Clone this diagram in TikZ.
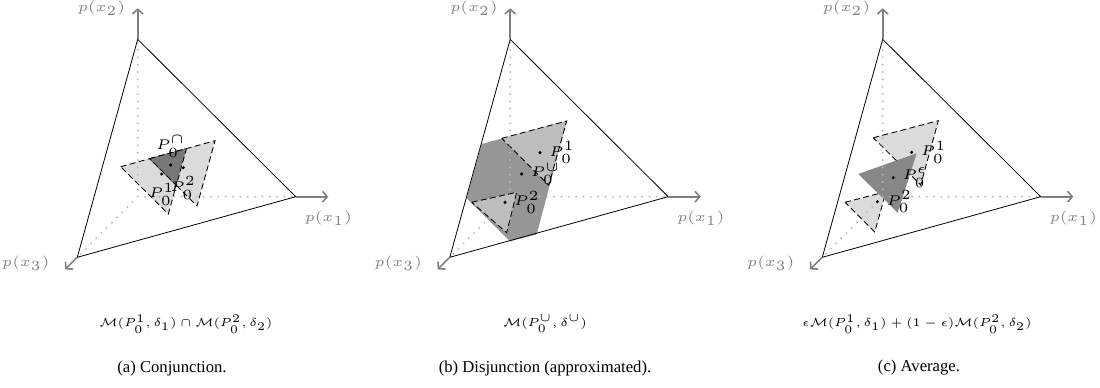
\documentclass[tikz,border=0pt]{standalone}
\usepackage[no-math]{fontspec}
\newfontfamily\capfont{Liberation Serif}
\usetikzlibrary{positioning, arrows.meta}

\definecolor{lightfill}{gray}{0.86}
\definecolor{capfill}{gray}{0.47}
\definecolor{cupfill}{gray}{0.59}
\definecolor{cuplight}{gray}{0.74}
\definecolor{avgfill}{gray}{0.53}

\tikzset{
  axisline/.style={gray, line width=1.2pt, -{Straight Barb[length=3.5pt,width=8pt]}},
  guideline/.style={gray!55, line width=1.6pt, line cap=round, dash pattern=on 0pt off 5.5pt},
  simplexedge/.style={black, line width=0.6pt},
  region/.style={draw=black, line width=0.65pt, dash pattern=on 4.5pt off 2.5pt},
  dotmark/.style={circle, fill=black, inner sep=0pt, minimum size=2.6pt},
  axislabel/.style={gray, font=\tiny, scale=2.1, inner sep=0pt},
  pointlabel/.style={font=\tiny, scale=2.1, inner sep=0pt},
  formula/.style={font=\tiny, scale=1.75},
  subcaption/.style={font=\capfont\fontsize{12.5}{15}\selectfont}
}

\begin{document}
\begin{tikzpicture}[x=0.75pt, y=-0.75pt]
  \useasboundingbox (0,0) rectangle (1100,387);

  % 1. Conjunction: two balls and their intersection
  \draw[region, fill=lightfill] (120.7,166.7) -- (186.5,148.5) -- (168.3,214) -- cycle;
  \draw[region, fill=lightfill] (149.7,158.7) -- (215,140.7) -- (197,206) -- cycle;
  \draw[region, fill=capfill] (149.7,158.7) -- (186.5,148.5) -- (176.3,185.3) -- cycle;

  % 2. Disjunction: approximating ball (clipped to the simplex) and the two balls
  \fill[cupfill] (481.7,144) -- (566.7,121) -- (536.7,234.3) -- (510,241.3) -- (466.7,198.3) -- cycle;
  \draw[region, fill=cuplight] (501.7,138.3) -- (566.7,121) -- (548.7,185.3) -- cycle;
  \draw[region, fill=cuplight] (471.7,202.3) -- (516.7,192.3) -- (506.7,232.7) -- cycle;

  % 3. Average: two balls and the mixture
  \draw[region, fill=lightfill] (873.3,137.7) -- (938.3,120.7) -- (920.7,185) -- cycle;
  \draw[region, fill=lightfill] (845,202.3) -- (886,191.7) -- (874.7,232) -- cycle;
  \fill[avgfill] (858.3,174) -- (916.7,153.3) -- (897.7,212.7) -- cycle;

  % 4. Simplex and axes, once per panel
  \foreach \p/\s in {a/0, b/372.5, c/745}{
    \begin{scope}[shift={(\s,0)}]
      \coordinate (\p-o) at (137.7,196.7);
      \coordinate (\p-v1) at (295.7,196.7);
      \coordinate (\p-v2) at (137.7,39.3);
      \coordinate (\p-v3) at (77.3,257.3);
      \coordinate (\p-t1) at (328.3,196.7);
      \coordinate (\p-t2) at (137.7,8.3);
      \coordinate (\p-t3) at (65.2,269.4);
      \draw[guideline] (\p-o) -- (\p-v1) (\p-o) -- (\p-v2) (\p-o) -- (\p-v3);
      \draw[simplexedge] (\p-v1) -- (\p-v2) -- (\p-v3) -- cycle;
      \draw[axisline] (\p-v1) -- (\p-t1);
      \draw[axisline] (\p-v2) -- (\p-t2);
      \draw[axisline] (\p-v3) -- (\p-t3);
      \node[axislabel, below=10pt of \p-t1] (\p-x1) {$p(x_1)$};
      \node[axislabel, left=9pt of \p-t2] (\p-x2) {$p(x_2)$};
      \node[axislabel, anchor=east] (\p-x3) at (50,263.5) {$p(x_3)$};
    \end{scope}
  }

  % 5. Centres and their labels
  \node[dotmark] (a-p1) at (161.7,174) {};
  \node[dotmark] (a-p2) at (183.3,167.7) {};
  \node[dotmark] (a-pc) at (170.7,165) {};
  \node[pointlabel, above=4pt of a-pc] (a-pc-lbl) {$P_0^{\cap}$};
  \node[pointlabel, below=5pt of a-p1] (a-p1-lbl) {$P_0^1$};
  \node[pointlabel, below=5pt of a-p2] (a-p2-lbl) {$P_0^2$};

  \node[dotmark] (b-p1) at (540,152.7) {};
  \node[dotmark] (b-pu) at (521.7,174) {};
  \node[dotmark] (b-p2) at (505,202.3) {};
  \node[pointlabel, right=5pt of b-p1] (b-p1-lbl) {$P_0^1$};
  \node[pointlabel, right=5pt of b-pu] (b-pu-lbl) {$P_0^{\cup}$};
  \node[pointlabel, right=5pt of b-p2] (b-p2-lbl) {$P_0^2$};

  \node[dotmark] (c-p1) at (911.7,152.3) {};
  \node[dotmark] (c-pe) at (893.3,177.7) {};
  \node[dotmark] (c-p2) at (877.3,201.7) {};
  \node[pointlabel, right=5pt of c-p1] (c-p1-lbl) {$P_0^1$};
  \node[pointlabel, right=5pt of c-pe] (c-pe-lbl) {$P_0^{\epsilon}$};
  \node[pointlabel, right=5pt of c-p2] (c-p2-lbl) {$P_0^2$};

  % 6. Formulas and captions
  \node[formula] (a-formula) at (186,324) {$\mathcal{M}(P_0^1,\delta_1)\cap\mathcal{M}(P_0^2,\delta_2)$};
  \node[formula] (b-formula) at (545,324) {$\mathcal{M}(P_0^{\cup},\delta^{\cup})$};
  \node[formula] (c-formula) at (917,324) {$\epsilon\mathcal{M}(P_0^1,\delta_1)+(1-\epsilon)\mathcal{M}(P_0^2,\delta_2)$};
  \node[subcaption] (a-caption) at (172,368) {(a) Conjunction.};
  \node[subcaption] (b-caption) at (545,368) {(b) Disjunction (approximated).};
  \node[subcaption] (c-caption) at (919,368) {(c) Average.};
\end{tikzpicture}
\end{document}
